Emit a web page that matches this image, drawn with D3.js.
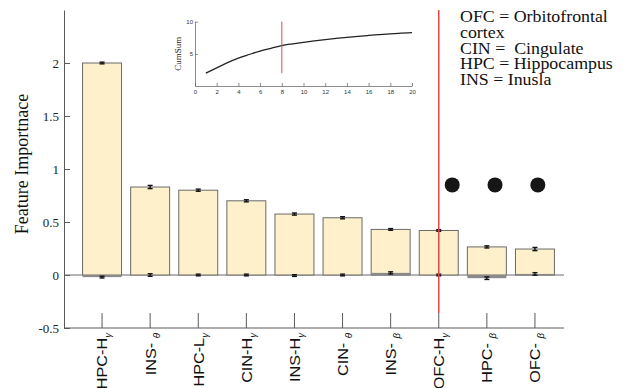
<!DOCTYPE html>
<html lang="en">
  <head>
    <meta charset="UTF-8" />
    <title>Feature importance</title>
    <script src="https://d3js.org/d3.v7.min.js"></script>
    <style>
      body {
        margin: 0;
        background-color: white;
      }
      svg {
        display: block;
      }
      .serif {
        font-family: "Liberation Serif", "Times New Roman", serif;
      }
      .sans {
        font-family: "Liberation Sans", Arial, sans-serif;
      }
      .axis path,
      .axis line {
        stroke: #5a5a5a;
      }
    </style>
  </head>
  <body>
    <svg id="chart" width="625" height="388"></svg>
    <script>
      // categories on the x axis (base name + greek subscript)
      const categories = ["HPC-Hγ", "INS-θ", "HPC-Lγ", "CIN-Hγ", "INS-Hγ", "CIN-θ", "INS-β", "OFC-Hγ", "HPC-β", "OFC-β"];
      const labelBase = ["HPC-H", "INS- ", "HPC-L", "CIN-H", "INS-H", "CIN- ", "INS- ", "OFC-H", "HPC- ", "OFC- "];
      const labelSub = ["γ", "θ", "γ", "γ", "γ", "θ", "β", "γ", "β", "β"];

      // feature importance (mean) and error
      const importance = [2.0, 0.83, 0.8, 0.7, 0.575, 0.54, 0.43, 0.42, 0.265, 0.245];
      const importanceErr = [0.008, 0.015, 0.01, 0.01, 0.01, 0.01, 0.008, 0.008, 0.01, 0.015];

      // shuffled / null importance
      const nullValues = [-0.02, 0.0, 0.0, 0.0, -0.005, 0.0, 0.02, 0.0, -0.03, 0.01];
      const nullErr = [0.008, 0.012, 0.008, 0.008, 0.008, 0.008, 0.01, 0.008, 0.012, 0.012];

      const yTicks = [-0.5, 0, 0.5, 1, 1.5, 2];

      // significance dots (position in category-index units, value)
      const dotIndex = [7.28, 8.17, 9.06];
      const dotValue = [0.85, 0.85, 0.85];

      // inset: cumulative sum of sorted importances
      const cumSum = [2.0, 2.83, 3.63, 4.33, 4.9, 5.44, 5.87, 6.29, 6.56, 6.8,
                      7.02, 7.22, 7.4, 7.57, 7.72, 7.86, 7.99, 8.11, 8.21, 8.3];
      const cumCut = 8;
      const insetXTicks = [0, 2, 4, 6, 8, 10, 12, 14, 16, 18, 20];
      const insetYTicks = [5, 10];

      const legendLines = ["OFC = Orbitofrontal", "cortex", "CIN =  Cingulate", "HPC = Hippocampus", "INS = Inusla"];

      const svg = d3.select("#chart");

      const axisLeftX = 64;
      const axisRightX = 564;

      const x = d3.scaleBand().domain(categories).range([78, 559]).paddingInner(0.19).paddingOuter(0.095);
      const y = d3.scaleLinear().domain([-0.5, 2.5]).range([328, 10]);
      const bw = x.bandwidth();
      const cx = (c) => x(c) + bw / 2;

      // y axis
      const yAxis = svg
        .append("g")
        .attr("class", "axis serif")
        .attr("transform", `translate(${axisLeftX},0)`)
        .call(d3.axisLeft(y).tickValues(yTicks).tickSizeInner(-6).tickSizeOuter(0).tickPadding(5).tickFormat((d) => d));
      yAxis.selectAll("text").attr("font-size", 13).attr("fill", "#222");
      yAxis.attr("font-family", null);

      // x axis (ticks pointing up, custom labels)
      const xAxis = svg
        .append("g")
        .attr("class", "axis")
        .attr("transform", `translate(0,${y(-0.5)})`)
        .call(d3.axisBottom(x).tickSizeInner(-15).tickSizeOuter(0).tickFormat(""));
      xAxis.select(".domain").remove();
      xAxis
        .append("line")
        .attr("x1", axisLeftX)
        .attr("x2", axisRightX)
        .attr("stroke", "#5a5a5a");

      const labels = svg
        .append("g")
        .attr("class", "sans")
        .selectAll("text")
        .data(categories)
        .join("text")
        .attr("transform", (d) => `translate(${cx(d)},${y(-0.5) + 5}) rotate(-90) scale(1.08,1)`)
        .attr("text-anchor", "end")
        .attr("dy", "0.36em")
        .attr("font-size", 15)
        .attr("fill", "#111")
        .style("white-space", "pre");
      labels.append("tspan").text((d, i) => labelBase[i]);
      labels
        .append("tspan")
        .attr("font-size", 9)
        .attr("font-style", "italic")
        .attr("dy", "0.45em")
        .text((d, i) => labelSub[i]);

      // zero line
      svg
        .append("line")
        .attr("x1", axisLeftX)
        .attr("x2", axisRightX)
        .attr("y1", y(0))
        .attr("y2", y(0))
        .attr("stroke", "#6a6a6a");

      // bars
      svg
        .append("g")
        .selectAll("rect")
        .data(categories)
        .join("rect")
        .attr("x", (d) => x(d))
        .attr("y", (d, i) => y(importance[i]))
        .attr("width", bw)
        .attr("height", (d, i) => y(0) - y(importance[i]))
        .attr("fill", "#fdf0cb")
        .attr("stroke", "#6a6a6a")
        .attr("stroke-width", 1);

      // null bars
      svg
        .append("g")
        .selectAll("rect")
        .data(categories)
        .join("rect")
        .attr("x", (d) => x(d))
        .attr("y", (d, i) => y(Math.max(0, nullValues[i])))
        .attr("width", bw)
        .attr("height", (d, i) => Math.abs(y(0) - y(nullValues[i])))
        .attr("fill", "#8a8a8a");

      // error bars
      function errorBars(vals, errs) {
        const g = svg.append("g").attr("stroke", "#111").attr("stroke-width", 1.4);
        categories.forEach((c, i) => {
          const xc = cx(c);
          const lo = y(vals[i] - errs[i]);
          const hi = y(vals[i] + errs[i]);
          g.append("line").attr("x1", xc).attr("x2", xc).attr("y1", lo).attr("y2", hi);
          g.append("line").attr("x1", xc - 2.5).attr("x2", xc + 2.5).attr("y1", lo).attr("y2", lo);
          g.append("line").attr("x1", xc - 2.5).attr("x2", xc + 2.5).attr("y1", hi).attr("y2", hi);
        });
      }
      errorBars(importance, importanceErr);
      errorBars(nullValues, nullErr);

      // cut-off line
      svg
        .append("line")
        .attr("x1", cx(categories[cumCut - 1]))
        .attr("x2", cx(categories[cumCut - 1]))
        .attr("y1", y(2.5))
        .attr("y2", y(-0.5) - 15)
        .attr("stroke", "#e8474c")
        .attr("stroke-width", 1.5);

      // significance dots
      const xi = d3.scaleLinear().domain([0, categories.length - 1]).range([cx(categories[0]), cx(categories[categories.length - 1])]);
      svg
        .append("g")
        .selectAll("circle")
        .data(dotIndex)
        .join("circle")
        .attr("cx", (d) => xi(d))
        .attr("cy", (d, i) => y(dotValue[i]))
        .attr("r", 7.5)
        .attr("fill", "#161616");

      // y label
      svg
        .append("text")
        .attr("class", "serif")
        .attr("transform", `translate(28,164) rotate(-90)`)
        .attr("text-anchor", "middle")
        .attr("font-size", 18)
        .attr("fill", "#111")
        .text("Feature Importnace");

      // inset
      const xs = d3.scaleLinear().domain([0, 20]).range([195, 412]);
      const ys = d3.scaleLinear().domain([0, 10]).range([86, 21.7]);
      const inset = svg.append("g");
      const ixAxis = inset
        .append("g")
        .attr("class", "axis sans")
        .attr("transform", `translate(0,${ys(0)})`)
        .call(d3.axisBottom(xs).tickValues(insetXTicks).tickSizeInner(-3).tickSizeOuter(0).tickPadding(4));
      const iyAxis = inset
        .append("g")
        .attr("class", "axis sans")
        .attr("transform", `translate(${xs(0)},0)`)
        .call(d3.axisLeft(ys).tickValues(insetYTicks).tickSizeInner(-3).tickSizeOuter(0).tickPadding(2));
      [ixAxis, iyAxis].forEach((a) => {
        a.attr("font-family", null);
        a.selectAll("text").attr("font-size", 6).attr("fill", "#333");
        a.selectAll("path, line").attr("stroke", "#777").attr("stroke-width", 0.7);
      });

      inset
        .append("path")
        .datum(cumSum)
        .attr("fill", "none")
        .attr("stroke", "#222")
        .attr("stroke-width", 1.3)
        .attr("d", d3.line().x((d, i) => xs(i + 1)).y((d) => ys(d)).curve(d3.curveMonotoneX));

      inset
        .append("line")
        .attr("x1", xs(cumCut))
        .attr("x2", xs(cumCut))
        .attr("y1", ys(10))
        .attr("y2", ys(2))
        .attr("stroke", "#e8474c")
        .attr("stroke-width", 1);

      inset
        .append("text")
        .attr("class", "serif")
        .attr("transform", `translate(181,${ys(5)}) rotate(-90)`)
        .attr("text-anchor", "middle")
        .attr("font-size", 9)
        .attr("fill", "#222")
        .text("CumSum");

      // legend text
      svg
        .append("g")
        .attr("class", "serif")
        .attr("transform", "translate(460,0) scale(1.05,1)")
        .selectAll("text")
        .data(legendLines)
        .join("text")
        .attr("x", 0)
        .attr("y", (d, i) => 22 + i * 15.8)
        .attr("font-size", 17)
        .attr("fill", "#111")
        .style("white-space", "pre")
        .text((d) => d);
    </script>
  </body>
</html>
